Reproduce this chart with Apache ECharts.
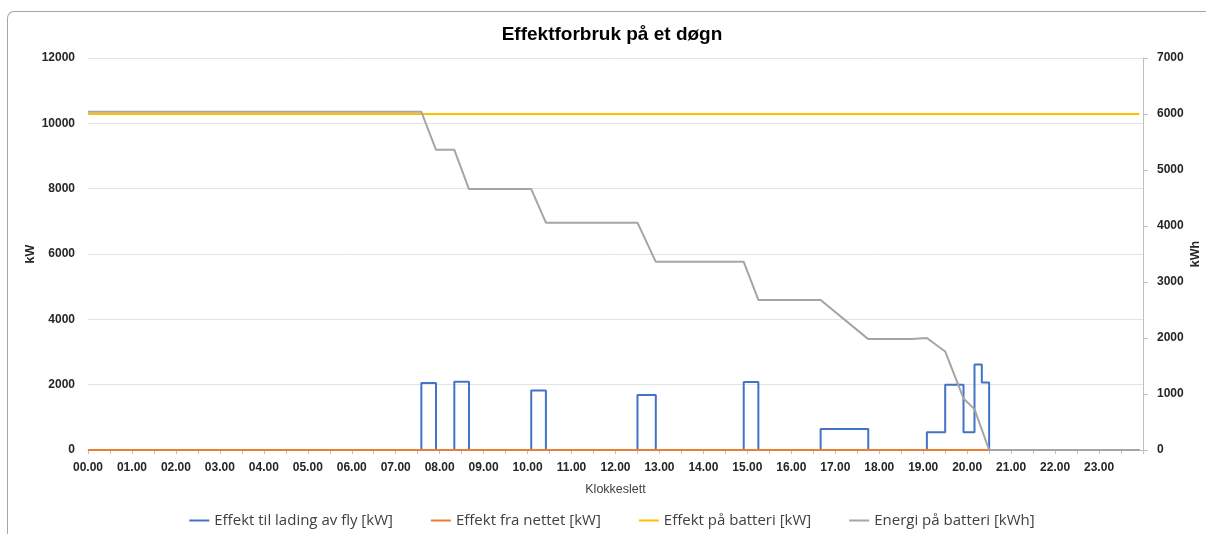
<!DOCTYPE html>
<html>
<head>
<meta charset="utf-8">
<title>Effektforbruk på et døgn</title>
<script src="https://cdn.jsdelivr.net/npm/echarts@6/dist/echarts.min.js"></script>
<style>
  html, body { margin: 0; padding: 0; background: #fff; overflow: hidden; width: 1206px; height: 534px; }
  #wrap { position: relative; width: 1206px; height: 534px; overflow: hidden; }
  #frame {
    position: absolute; left: 7px; top: 11px; width: 1199px; height: 523px;
    border-left: 1px solid #a6a6a6; border-top: 1px solid #a6a6a6;
    border-top-left-radius: 7px; box-sizing: border-box;
  }
  #chart { position: absolute; left: 0; top: 0; width: 1224px; height: 534px; }
</style>
</head>
<body>
<div id="wrap">
<div id="frame"></div>
<div id="chart"></div>
</div>
<script>
// Series names (legend)
const seriesNames = [
  'Effekt til lading av fly [kW]',
  'Effekt fra nettet [kW]',
  'Effekt på batteri [kW]',
  'Energi på batteri [kWh]'
];

// Charging power for aircraft: value held from each time until the next one
const chargeTimes = ['00:00', '07:35', '07:55', '08:20', '08:40', '10:05', '10:25', '12:30', '12:55',
  '14:55', '15:15', '16:40', '17:45', '19:05', '19:30', '19:55', '20:10', '20:20', '20:30', '23:55'];
const chargeKW = [0, 2050, 0, 2090, 0, 1820, 0, 1680, 0,
  2080, 0, 640, 0, 540, 2000, 540, 2620, 2070, 0, 0];

// Power drawn from the grid
const gridTimes = ['00:00', '23:55'];
const gridKW = [0, 0];

// Battery power (plotted against the kWh axis scale)
const batteryPowerTimes = ['00:00', '23:55'];
const batteryPowerKW = [6000, 6000];

// Stored energy in the battery
const energyTimes = ['00:00', '07:35', '07:55', '08:20', '08:40', '10:05', '10:25', '12:30', '12:55',
  '14:55', '15:15', '16:40', '17:45', '18:45', '19:05', '19:30', '19:55', '20:10', '20:30', '23:55'];
const energyKWh = [6040, 6040, 5360, 5360, 4660, 4660, 4060, 4060, 3360,
  3360, 2680, 2680, 1980, 1980, 2000, 1760, 920, 730, 0, 0];

// Axis scales
const kwAxis = { min: 0, max: 12000, interval: 2000 };
const kwhAxis = { min: 0, max: 7000, interval: 1000 };
const hourAxis = { min: 0, max: 24, interval: 0.5 };

function toHours(t) {
  const [h, m] = t.split(':').map(Number);
  return h + m / 60;
}
function pairs(times, values) {
  return times.map((t, i) => [toHours(t), values[i]]);
}
function hourLabel(v) {
  if (Math.abs(v - Math.round(v)) > 1e-6 || v >= 24) return '';
  const h = Math.round(v);
  return (h < 10 ? '0' + h : '' + h) + '.00';
}
function plainNumber(v) {
  return String(Math.round(v));
}

const FONT = 'Liberation Sans';
const labelStyle = { color: '#262626', fontWeight: 'bold', fontSize: 12, fontFamily: FONT };

const chart = echarts.init(document.getElementById('chart'), null, { renderer: 'canvas' });
chart.setOption({
  animation: false,
  backgroundColor: 'transparent',
  title: {
    text: 'Effektforbruk på et døgn',
    left: 'center',
    top: 20,
    textStyle: { fontFamily: FONT, fontWeight: 'bold', fontSize: 19, color: '#000' }
  },
  legend: {
    bottom: 1,
    left: 'center',
    itemWidth: 20,
    itemHeight: 2,
    itemGap: 38,
    itemTextGap: 2,
    icon: 'rect',
    textStyle: { fontFamily: 'Open Sans', fontSize: 15, color: '#404040' },
    data: seriesNames
  },
  grid: { left: 88, right: 81, top: 58, bottom: 84, containLabel: false },
  xAxis: {
    type: 'value',
    min: hourAxis.min,
    max: hourAxis.max,
    interval: hourAxis.interval,
    name: 'Klokkeslett',
    nameLocation: 'middle',
    nameGap: 33,
    nameTextStyle: { fontFamily: FONT, fontSize: 12.5, color: '#404040' },
    axisLine: { show: true, lineStyle: { color: '#bfbfbf', width: 1 } },
    axisTick: { show: true, length: 4, lineStyle: { color: '#bfbfbf' } },
    axisLabel: Object.assign({ formatter: hourLabel, margin: 12, hideOverlap: false }, labelStyle),
    splitLine: { show: false }
  },
  yAxis: [
    {
      type: 'value',
      min: kwAxis.min,
      max: kwAxis.max,
      interval: kwAxis.interval,
      name: 'kW',
      nameLocation: 'middle',
      nameMoveOverlap: false,
      nameGap: 51,
      nameRotate: 90,
      nameTextStyle: { fontFamily: FONT, fontSize: 12.5, fontWeight: 'bold', color: '#262626' },
      axisLine: { show: false },
      axisTick: { show: false },
      axisLabel: Object.assign({ margin: 13, formatter: plainNumber }, labelStyle),
      splitLine: { show: true, lineStyle: { color: '#e3e3e3', width: 1 } }
    },
    {
      type: 'value',
      position: 'right',
      min: kwhAxis.min,
      max: kwhAxis.max,
      interval: kwhAxis.interval,
      name: 'kWh',
      nameLocation: 'middle',
      nameMoveOverlap: false,
      nameGap: 46,
      nameRotate: 90,
      nameTextStyle: { fontFamily: FONT, fontSize: 12.5, fontWeight: 'bold', color: '#262626' },
      axisLine: { show: true, lineStyle: { color: '#bfbfbf', width: 1 } },
      axisTick: { show: true, length: 5, lineStyle: { color: '#bfbfbf' } },
      axisLabel: Object.assign({ margin: 14, formatter: plainNumber }, labelStyle),
      splitLine: { show: false }
    }
  ],
  series: [
    {
      name: seriesNames[0], type: 'line', yAxisIndex: 0, step: 'end',
      symbol: 'none', data: pairs(chargeTimes, chargeKW),
      lineStyle: { color: '#4472C4', width: 2 }, itemStyle: { color: '#4472C4' }
    },
    {
      name: seriesNames[1], type: 'line', yAxisIndex: 0,
      symbol: 'none', data: pairs(gridTimes, gridKW),
      lineStyle: { color: '#ED7D31', width: 2 }, itemStyle: { color: '#ED7D31' }
    },
    {
      name: seriesNames[2], type: 'line', yAxisIndex: 1,
      symbol: 'none', data: pairs(batteryPowerTimes, batteryPowerKW),
      lineStyle: { color: '#FFC000', width: 2 }, itemStyle: { color: '#FFC000' }
    },
    {
      name: seriesNames[3], type: 'line', yAxisIndex: 1,
      symbol: 'none', data: pairs(energyTimes, energyKWh),
      lineStyle: { color: '#A5A5A5', width: 2 }, itemStyle: { color: '#A5A5A5' }
    }
  ]
});
</script>
</body>
</html>
